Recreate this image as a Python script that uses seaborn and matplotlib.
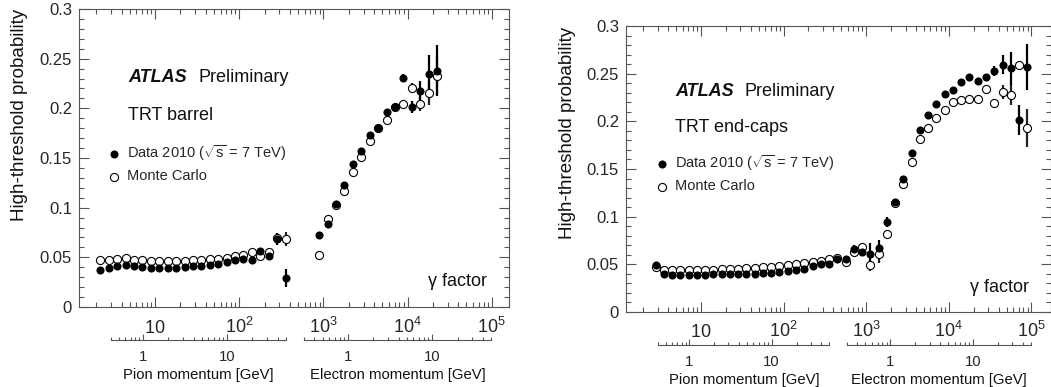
import numpy as np
import matplotlib
matplotlib.use('Agg')
import matplotlib.pyplot as plt
import seaborn as sns
from matplotlib.ticker import FixedLocator, MultipleLocator, FuncFormatter, NullFormatter

# bin centres in log10(gamma) and high-threshold probabilities
# --- TRT barrel ---
barrel_pion_lg = [0.35, 0.45, 0.55, 0.65, 0.75, 0.85, 0.95, 1.05, 1.15, 1.25, 1.35, 1.45,
                  1.55, 1.65, 1.75, 1.85, 1.95, 2.05, 2.15, 2.25, 2.35, 2.45, 2.55]
barrel_pion_data = [0.037, 0.039, 0.041, 0.0425, 0.041, 0.0402, 0.0395, 0.0395, 0.0395, 0.0395,
                    0.0402, 0.041, 0.0415, 0.0426, 0.0436, 0.045, 0.047, 0.0486, 0.047, 0.0563,
                    0.051, 0.0685, 0.0295]
barrel_pion_data_err = [0.001] * 19 + [0.002, 0.002, 0.006, 0.009]
barrel_pion_mc = [0.0476, 0.0476, 0.0486, 0.0493, 0.0476, 0.047, 0.0463, 0.0463, 0.046, 0.0463,
                  0.0463, 0.047, 0.0476, 0.048, 0.0486, 0.0496, 0.051, 0.052, 0.0555, 0.0515,
                  0.0555, 0.0698, 0.0687]
barrel_pion_mc_err = [0.001] * 21 + [0.005, 0.007]

barrel_elec_lg = [2.95, 3.05, 3.15, 3.25, 3.35, 3.45, 3.55, 3.65, 3.75, 3.85, 3.95, 4.05, 4.15,
                  4.25, 4.35]
barrel_elec_data = [0.0728, 0.0831, 0.104, 0.1233, 0.1441, 0.1575, 0.1733, 0.180, 0.1967, 0.201,
                    0.2306, 0.2017, 0.2172, 0.2346, 0.238]
barrel_elec_data_err = [0.003, 0.002, 0.002, 0.002, 0.002, 0.002, 0.002, 0.002, 0.002, 0.002,
                        0.004, 0.006, 0.010, 0.019, 0.026]
barrel_elec_mc = [0.0527, 0.0889, 0.1022, 0.1163, 0.1357, 0.1508, 0.1669, 0.180, 0.1884, 0.2015,
                  0.2045, 0.2206, 0.2045, 0.2152, 0.233]
barrel_elec_mc_err = [0.002] * 11 + [0.005, 0.007, 0.012, 0.02]

# --- TRT end-caps ---
endcap_lg = [0.45, 0.55, 0.65, 0.75, 0.85, 0.95, 1.05, 1.15, 1.25, 1.35, 1.45, 1.55, 1.65, 1.75,
             1.85, 1.95, 2.05, 2.15, 2.25, 2.35, 2.45, 2.55, 2.65, 2.75, 2.85, 2.95, 3.05, 3.15,
             3.25, 3.35, 3.45, 3.55, 3.65, 3.75, 3.85, 3.95, 4.05, 4.15, 4.25, 4.35, 4.45, 4.55,
             4.65, 4.75, 4.85, 4.95]
endcap_data = [0.049, 0.0395, 0.039, 0.039, 0.039, 0.039, 0.039, 0.0395, 0.0395, 0.0395, 0.0395,
               0.040, 0.040, 0.0405, 0.041, 0.042, 0.043, 0.044, 0.0455, 0.048, 0.050, 0.050,
               0.056, 0.056, 0.0658, 0.063, 0.061, 0.067, 0.0944, 0.1154, 0.139, 0.1668, 0.1906,
               0.207, 0.218, 0.229, 0.2325, 0.2415, 0.247, 0.242, 0.2465, 0.253, 0.2595, 0.2555,
               0.201, 0.257]
endcap_data_err = [0.002] * 24 + [0.004, 0.004, 0.011, 0.009, 0.005, 0.002, 0.002, 0.002, 0.002,
                                  0.002, 0.002, 0.002, 0.002, 0.002, 0.002, 0.002, 0.003, 0.005,
                                  0.0096, 0.017, 0.0157, 0.0245]
endcap_mc = [0.0475, 0.0445, 0.044, 0.044, 0.044, 0.0445, 0.0445, 0.0445, 0.045, 0.045, 0.0455,
             0.046, 0.046, 0.047, 0.0475, 0.048, 0.049, 0.050, 0.0514, 0.0525, 0.054, 0.056,
             0.057, 0.0525, 0.063, 0.068, 0.049, 0.061, 0.0822, 0.114, 0.1347, 0.1574, 0.1815,
             0.1934, 0.2039, 0.2123, 0.220, 0.222, 0.2235, 0.2235, 0.2336, 0.2193, 0.2308, 0.228,
             0.2588, 0.1934]
endcap_mc_err = [0.002] * 24 + [0.003, 0.004, 0.006, 0.010, 0.004, 0.002, 0.002, 0.002, 0.002,
                                0.002, 0.002, 0.002, 0.002, 0.002, 0.002, 0.002, 0.004, 0.004,
                                0.007, 0.011, 0.005, 0.02]

gamma_ticks = [10, 100, 1e3, 1e4, 1e5]
gamma_labels = [r'$\mathdefault{10}$', r'$\mathdefault{10^{2}}$', r'$\mathdefault{10^{3}}$',
                r'$\mathdefault{10^{4}}$', r'$\mathdefault{10^{5}}$']

sns.set_style('ticks')
plt.rcParams['font.family'] = ['Liberation Sans', 'DejaVu Sans']
plt.rcParams['mathtext.fontset'] = 'custom'
plt.rcParams['mathtext.rm'] = 'Liberation Sans'
plt.rcParams['mathtext.it'] = 'Liberation Sans:italic'
plt.rcParams['mathtext.bf'] = 'Liberation Sans:bold'

W, H = 1051, 387
fig = plt.figure(figsize=(W / 100, H / 100), dpi=100)
GRAY = '#555555'
M_PION, M_ELEC = 0.13957, 0.000511


def rect(x0, y0, x1, y1):
    return [x0 / W, 1 - y1 / H, (x1 - x0) / W, (y1 - y0) / H]


def gamma(p, m):
    return np.sqrt(1 + (np.asarray(p, dtype=float) / m) ** 2)


def draw_series(ax, lg, data, data_err, mc, mc_err, with_label):
    g = 10 ** np.asarray(lg)
    ax.errorbar(g, mc, yerr=mc_err, fmt='none', ecolor='#222222', elinewidth=1.6, capsize=0, zorder=2)
    ax.errorbar(g, data, yerr=data_err, fmt='none', ecolor='black', elinewidth=1.6, capsize=0, zorder=3)
    sns.scatterplot(x=g, y=mc, ax=ax, marker='o', s=34, facecolor='white', edgecolor='black',
                    linewidth=0.8, zorder=4, label='Monte Carlo' if with_label else None)
    sns.scatterplot(x=g, y=data, ax=ax, marker='o', s=34, color='black', linewidth=0, zorder=5,
                    label=r'Data 2010 ($\sqrt{\mathrm{s}}$ = 7 TeV)' if with_label else None)


def panel(box, lg_lo, lg_hi, tick_pad, series, title, txt, sec_y):
    x0, y0, x1, y1 = box
    ax = fig.add_axes(rect(*box))
    ax.set_xscale('log')
    for s in series:
        draw_series(ax, *s)
    ax.set_xlim(10 ** lg_lo, 10 ** lg_hi)
    ax.set_ylim(0, 0.3)
    minor = [m * 10 ** k for k in range(0, 6) for m in range(2, 10)
             if 10 ** lg_lo < m * 10 ** k < 10 ** lg_hi]
    ax.set_xticks(gamma_ticks, labels=gamma_labels, va='baseline')
    ax.set_xticks(minor, minor=True)
    ax.xaxis.set_minor_formatter(NullFormatter())
    ax.yaxis.set_major_locator(MultipleLocator(0.05))
    ax.yaxis.set_minor_locator(MultipleLocator(0.01))
    ax.yaxis.set_major_formatter(FuncFormatter(lambda v, _: f'{v:g}'))
    ax.tick_params(which='both', direction='in', top=True, right=True, color=GRAY, width=0.8)
    ax.tick_params(which='major', length=7)
    ax.tick_params(which='minor', length=3.5)
    ax.tick_params(axis='x', which='major', pad=tick_pad, labelsize=13)
    ax.tick_params(axis='y', labelsize=12, pad=5)
    for sp in ax.spines.values():
        sp.set_color(GRAY)
        sp.set_linewidth(0.8)
    ax.set_xlabel('')
    ax.set_ylabel('')

    # legend
    handles, labels = ax.get_legend_handles_labels()
    lx, ly = txt['legend']
    ax.legend(handles[::-1], labels[::-1], loc='upper left', bbox_to_anchor=(lx / W, 1 - ly / H),
              bbox_transform=fig.transFigure, frameon=False, fontsize=10.5, borderpad=0,
              borderaxespad=0, handlelength=0.8, handletextpad=0.5, labelspacing=0.45)

    # annotations
    ax_x, ax_y = txt['atlas']
    fig.text(ax_x / W, 1 - ax_y / H, 'ATLAS', fontsize=13, fontweight='bold', fontstyle='italic',
             va='center', color='#111111')
    fig.text(txt['prelim'] / W, 1 - ax_y / H, 'Preliminary', fontsize=13, va='center', color='#111111')
    fig.text(ax_x / W, 1 - txt['title_y'] / H, title, fontsize=13, va='center', color='#111111')
    gx, gy = txt['gfactor']
    fig.text(gx / W, 1 - gy / H, r'$\mathdefault{\gamma}$ factor', fontsize=13, ha='right',
             va='center', color='#111111')
    yx, yy = txt['ylabel']
    fig.text(yx / W, 1 - yy / H, 'High-threshold probability', fontsize=13.5, rotation=90,
             ha='center', va='top', color='#111111')

    # momentum axes below the gamma axis
    def to_px(g):
        return x0 + (np.log10(g) - lg_lo) / (lg_hi - lg_lo) * (x1 - x0)

    for m, p_lo, p_hi, name in [(M_PION, 0.4, 50, 'Pion momentum [GeV]'),
                                (M_ELEC, 0.3, 50, 'Electron momentum [GeV]')]:
        g_lo, g_hi = gamma(p_lo, m), gamma(p_hi, m)
        sec = fig.add_axes(rect(to_px(g_lo), sec_y - 1, to_px(g_hi), sec_y))
        sec.set_xscale('log')
        sec.set_xlim(g_lo, g_hi)
        sec.patch.set_alpha(0)
        for side in ['top', 'left', 'right']:
            sec.spines[side].set_visible(False)
        sec.spines['bottom'].set_color(GRAY)
        sec.spines['bottom'].set_linewidth(0.8)
        sec.set_yticks([])
        p_minor = [v for v in [0.3, 0.4, 0.5, 0.6, 0.7, 0.8, 0.9, 2, 3, 4, 5, 6, 7, 8, 9, 20, 30, 40, 50]
                   if p_lo <= v <= p_hi]
        sec.set_xticks(gamma([1, 10], m), labels=['1', '10'])
        sec.set_xticks(gamma(p_minor, m), minor=True)
        sec.xaxis.set_minor_formatter(NullFormatter())
        sec.tick_params(axis='x', which='both', direction='in', color=GRAY, width=0.8)
        sec.tick_params(axis='x', which='major', length=4.5, labelsize=10.7, pad=7)
        sec.tick_params(axis='x', which='minor', length=2.5)
        sec.set_xlabel(name, fontsize=10.7, labelpad=3, color='#111111')
    return ax


panel((79, 9, 509, 307), 0.097, 5.204, 19,
      [(barrel_pion_lg, barrel_pion_data, barrel_pion_data_err, barrel_pion_mc, barrel_pion_mc_err, True),
       (barrel_elec_lg, barrel_elec_data, barrel_elec_data_err, barrel_elec_mc, barrel_elec_mc_err, False)],
      'TRT barrel',
      {'legend': (108, 143), 'atlas': (128, 77), 'prelim': 199, 'title_y': 115,
       'gfactor': (488, 281), 'ylabel': (20, 9)},
      340)

panel((626, 26, 1051, 312), 0.092, 5.237, 18,
      [(endcap_lg, endcap_data, endcap_data_err, endcap_mc, endcap_mc_err, True)],
      'TRT end-caps',
      {'legend': (656, 153), 'atlas': (675, 91), 'prelim': 745, 'title_y': 127,
       'gfactor': (1030, 287), 'ylabel': (567, 27)},
      345)

fig.savefig('out.png', dpi=100)
